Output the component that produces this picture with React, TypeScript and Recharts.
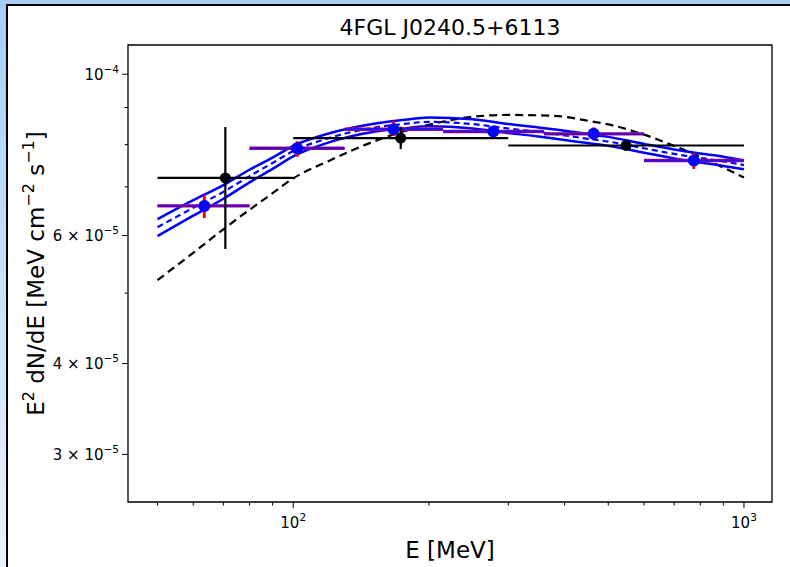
import { ComposedChart, Line, Scatter, XAxis, YAxis, ErrorBar, ReferenceArea } from 'recharts';

const FONT = '"DejaVu Sans", sans-serif';
const TITLE = '4FGL J0240.5+6113';

const xDomain = [43, 1154];
const yDomain = [2.58e-5, 1.097e-4];

// fitted spectrum (centre + 1 sigma band) and catalogue model on a shared energy grid, MeV
const curveEnergy = [50, 60, 70, 80, 90, 100, 120, 150, 175, 200, 250, 300, 350, 400, 450, 500, 600, 700, 800, 900, 1000];
const fitCenter = [6.16e-5, 6.55e-5, 6.89e-5, 7.24e-5, 7.55e-5, 7.84e-5, 8.17e-5, 8.44e-5, 8.54e-5, 8.6e-5, 8.54e-5, 8.42e-5, 8.33e-5, 8.24e-5, 8.15e-5, 8.08e-5, 7.91e-5, 7.77e-5, 7.67e-5, 7.59e-5, 7.5e-5];
const fitUpper = [6.32e-5, 6.71e-5, 7.04e-5, 7.39e-5, 7.68e-5, 7.97e-5, 8.29e-5, 8.54e-5, 8.65e-5, 8.72e-5, 8.67e-5, 8.54e-5, 8.45e-5, 8.36e-5, 8.28e-5, 8.2e-5, 8.02e-5, 7.88e-5, 7.78e-5, 7.7e-5, 7.61e-5];
const fitLower = [5.99e-5, 6.39e-5, 6.74e-5, 7.1e-5, 7.41e-5, 7.71e-5, 8.06e-5, 8.33e-5, 8.42e-5, 8.48e-5, 8.42e-5, 8.3e-5, 8.21e-5, 8.12e-5, 8.04e-5, 7.97e-5, 7.8e-5, 7.66e-5, 7.56e-5, 7.48e-5, 7.4e-5];
const catalogModel = [5.21e-5, 5.68e-5, 6.12e-5, 6.51e-5, 6.86e-5, 7.19e-5, 7.6e-5, 8.07e-5, 8.34e-5, 8.52e-5, 8.74e-5, 8.79e-5, 8.78e-5, 8.74e-5, 8.63e-5, 8.53e-5, 8.26e-5, 7.97e-5, 7.7e-5, 7.44e-5, 7.21e-5];

// SED points from this analysis
const sedEnergy = [63.5, 102, 167, 278, 464, 774];
const sedEmin = [50, 80, 130, 215, 360, 600];
const sedEmax = [80, 130, 215, 360, 600, 1000];
const sedFlux = [6.59e-5, 7.91e-5, 8.4e-5, 8.34e-5, 8.28e-5, 7.61e-5];
const sedFluxLow = [6.34e-5, 7.7e-5, 8.22e-5, 8.22e-5, 8.13e-5, 7.41e-5];
const sedFluxHigh = [6.81e-5, 8.09e-5, 8.62e-5, 8.46e-5, 8.45e-5, 7.79e-5];

// catalogue band fluxes
const catEnergy = [70.7, 173.2, 547.7];
const catEmin = [50, 100, 300];
const catEmax = [100, 300, 1000];
const catFlux = [7.2e-5, 8.17e-5, 7.98e-5];
const catFluxLow = [5.75e-5, 7.89e-5, 7.88e-5];
const catFluxHigh = [8.46e-5, 8.47e-5, 8.1e-5];

const xTicks = [50, 60, 70, 80, 90, 100, 200, 300, 400, 500, 600, 700, 800, 900, 1000];
const xTickExp: Record<number, string> = { 100: '2', 1000: '3' };

const yTicks = [3e-5, 4e-5, 5e-5, 6e-5, 7e-5, 8e-5, 9e-5, 1e-4];
const yTickBase = ['3 × 10', '4 × 10', '', '6 × 10', '', '', '', '10'];
const yTickExp = ['−5', '−5', '', '−5', '', '', '', '−4'];

const curveRows = curveEnergy.map((e, i) => ({
  e,
  center: fitCenter[i],
  upper: fitUpper[i],
  lower: fitLower[i],
  model: catalogModel[i],
}));

const sedRows = sedEnergy.map((e, i) => ({
  e,
  f: sedFlux[i],
  ex: [e - sedEmin[i], sedEmax[i] - e],
  ey: [sedFlux[i] - sedFluxLow[i], sedFluxHigh[i] - sedFlux[i]],
}));

const catRows = catEnergy.map((e, i) => ({
  e,
  f: catFlux[i],
  ex: [e - catEmin[i], catEmax[i] - e],
  ey: [catFlux[i] - catFluxLow[i], catFluxHigh[i] - catFlux[i]],
}));

function XTick({ x, y, payload }: any) {
  const exp = xTickExp[payload.value];
  return (
    <g>
      <line x1={x} x2={x} y1={y} y2={y + (exp ? 6 : 3.5)} stroke="#000" strokeWidth={1} />
      {exp && (
        <text x={x} y={y + 26} textAnchor="middle" fontSize={15} fontFamily={FONT} fill="#000">
          10<tspan dy={-7} fontSize={10.5}>{exp}</tspan>
        </text>
      )}
    </g>
  );
}

function YTick({ x, y, payload }: any) {
  const idx = yTicks.findIndex((t) => Math.abs(t - payload.value) < 1e-9);
  const base = yTickBase[idx];
  return (
    <g>
      <line x1={x} x2={x - (base ? 6 : 3.5)} y1={y} y2={y} stroke="#000" strokeWidth={1} />
      {base && (
        <text x={x - 9} y={y + 5.5} textAnchor="end" fontSize={15} fontFamily={FONT} fill="#000">
          {base}
          <tspan dy={-7} fontSize={10.5}>{yTickExp[idx]}</tspan>
        </text>
      )}
    </g>
  );
}

function XLabel({ viewBox }: any) {
  return (
    <text x={viewBox.x + viewBox.width / 2} y={558} textAnchor="middle" fontSize={23} fontFamily={FONT} fill="#000">
      E [MeV]
    </text>
  );
}

function YLabel({ viewBox }: any) {
  const cy = viewBox.y + viewBox.height / 2;
  return (
    <text
      transform={`translate(44,${cy}) rotate(-90)`}
      textAnchor="middle"
      fontSize={23}
      fontFamily={FONT}
      fill="#000"
      style={{ whiteSpace: 'pre' }}
    >
      E<tspan dy={-10} fontSize={16}>2</tspan>
      <tspan dy={10}>{' dN/dE [MeV cm'}</tspan>
      <tspan dy={-10} fontSize={16}>−2</tspan>
      <tspan dy={10}>{' s'}</tspan>
      <tspan dy={-10} fontSize={16}>−1</tspan>
      <tspan dy={10}>]</tspan>
    </text>
  );
}

const blueDot = (p: any) => <circle cx={p.cx} cy={p.cy} r={6} fill="#0000ff" />;
const blackDot = (p: any) => <circle cx={p.cx} cy={p.cy} r={5.5} fill="#000" />;

export default function App() {
  return (
    <div
      style={{
        position: 'fixed',
        left: 0,
        top: 0,
        width: 790,
        height: 567,
        overflow: 'hidden',
        background: 'linear-gradient(to bottom, #a6cef6, #eaf3fd)',
        fontFamily: FONT,
      }}
    >
      <div
        style={{
          position: 'absolute',
          left: 6,
          top: 4,
          right: 0,
          bottom: 0,
          background: '#fff',
          borderLeft: '2px solid #000',
          borderTop: '2px solid #000',
        }}
      />
      <div
        style={{
          position: 'absolute',
          left: 128,
          width: 644,
          top: 15,
          textAlign: 'center',
          fontSize: 22,
          lineHeight: '26px',
          color: '#000',
        }}
      >
        {TITLE}
      </div>
      <div style={{ position: 'absolute', left: 0, top: 0 }}>
        <ComposedChart width={790} height={567} data={curveRows} margin={{ top: 45, right: 18, bottom: 0, left: 0 }}>
          <XAxis
            dataKey="e"
            type="number"
            scale="log"
            domain={xDomain}
            allowDataOverflow
            ticks={xTicks}
            interval={0}
            tick={<XTick />}
            tickLine={false}
            tickSize={0}
            tickMargin={0}
            height={65}
            axisLine={false}
            label={<XLabel />}
          />
          <YAxis
            type="number"
            scale="log"
            domain={yDomain}
            allowDataOverflow
            ticks={yTicks}
            interval={0}
            tick={<YTick />}
            tickLine={false}
            tickSize={0}
            tickMargin={0}
            width={128}
            axisLine={false}
            label={<YLabel />}
          />

          <Line dataKey="model" type="monotone" stroke="#000" strokeWidth={2.2} strokeDasharray="8 5" dot={false} activeDot={false} isAnimationActive={false} />
          <Line dataKey="upper" type="monotone" stroke="#0000ff" strokeWidth={2.5} dot={false} activeDot={false} isAnimationActive={false} />
          <Line dataKey="lower" type="monotone" stroke="#0000ff" strokeWidth={2.5} dot={false} activeDot={false} isAnimationActive={false} />
          <Line dataKey="center" type="monotone" stroke="#0000ff" strokeWidth={2.2} strokeDasharray="6 4" dot={false} activeDot={false} isAnimationActive={false} />

          <Scatter data={sedRows} dataKey="f" shape={blueDot} isAnimationActive={false}>
            <ErrorBar dataKey="ex" direction="x" width={0} stroke="#ff0000" strokeWidth={3.4} isAnimationActive={false} />
            <ErrorBar dataKey="ex" direction="x" width={0} stroke="#2a10ff" strokeWidth={2.4} isAnimationActive={false} />
            <ErrorBar dataKey="ey" direction="y" width={0} stroke="#ff0000" strokeWidth={3} isAnimationActive={false} />
          </Scatter>
          <Scatter data={catRows} dataKey="f" shape={blackDot} isAnimationActive={false}>
            <ErrorBar dataKey="ex" direction="x" width={0} stroke="#000" strokeWidth={2.2} isAnimationActive={false} />
            <ErrorBar dataKey="ey" direction="y" width={0} stroke="#000" strokeWidth={2.2} isAnimationActive={false} />
          </Scatter>

          {/* axes frame */}
          <ReferenceArea
            x1={xDomain[0]}
            x2={xDomain[1]}
            y1={yDomain[0]}
            y2={yDomain[1]}
            ifOverflow="visible"
            fill="none"
            stroke="#000"
            strokeWidth={1.3}
          />
        </ComposedChart>
      </div>
    </div>
  );
}
